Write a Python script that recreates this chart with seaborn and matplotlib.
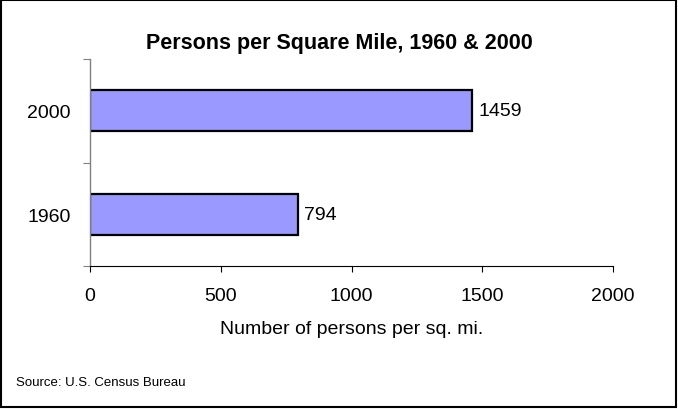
import matplotlib
matplotlib.use("Agg")
import matplotlib.pyplot as plt
import seaborn as sns
import pandas as pd
from matplotlib.patches import Rectangle

years = ["2000", "1960"]
density = [1459, 794]
x_ticks = [0, 500, 1000, 1500, 2000]

sns.set_style("white")
plt.rcParams["font.family"] = ["Liberation Sans", "DejaVu Sans"]
plt.rcParams["text.color"] = "black"
plt.rcParams["xtick.color"] = "black"
plt.rcParams["ytick.color"] = "black"
plt.rcParams["axes.labelcolor"] = "black"

df = pd.DataFrame({"year": years, "density": density})

fig = plt.figure(figsize=(6.78, 4.10), dpi=100)
ax = fig.add_axes([90 / 678, 1 - 267 / 410, 523 / 678, 207 / 410])

sns.barplot(data=df, x="density", y="year", order=years, orient="h",
            color="#9999FF", edgecolor="black", linewidth=1.6,
            width=0.4, saturation=1, ax=ax)

for p, v in zip(ax.patches, density):
    ax.text(p.get_width() + 25, p.get_y() + p.get_height() / 2, str(v),
            va="center", ha="left", fontsize=14)

ax.set_xlim(0, 2000)
ax.set_ylim(1.5, -0.5)
ax.set_xticks(x_ticks)
ax.set_xticklabels([str(t) for t in x_ticks], fontsize=14)
ax.set_yticks([0, 1])
ax.set_yticklabels(years, fontsize=14)
ax.set_yticks([-0.5, 0.5, 1.5], minor=True)
ax.tick_params(axis="y", which="major", length=0, pad=14)
ax.tick_params(axis="y", which="minor", length=5, width=0.8, color="#808080", direction="out", left=True)
ax.tick_params(axis="x", which="major", length=4, width=0.8, color="black", direction="out", bottom=True, pad=11)

ax.set_xlabel("Number of persons per sq. mi.", fontsize=14, labelpad=12)
ax.set_ylabel("")

sns.despine(ax=ax, top=True, right=True)
ax.spines["left"].set_color("#808080")
ax.spines["left"].set_linewidth(1)
ax.spines["bottom"].set_color("black")
ax.spines["bottom"].set_linewidth(0.8)

fig.text(0.5, 1 - 44 / 410, "Persons per Square Mile, 1960 & 2000",
         ha="center", va="center", fontsize=15.5, fontweight="bold")
fig.text(16 / 678, 1 - 383 / 410, "Source: U.S. Census Bureau",
         ha="left", va="center", fontsize=9.5)

fig.patches.append(Rectangle((0.002, 0.004), 0.995, 0.994, transform=fig.transFigure,
                             fill=False, edgecolor="black", linewidth=1.5))

fig.savefig("out.png", dpi=100)
